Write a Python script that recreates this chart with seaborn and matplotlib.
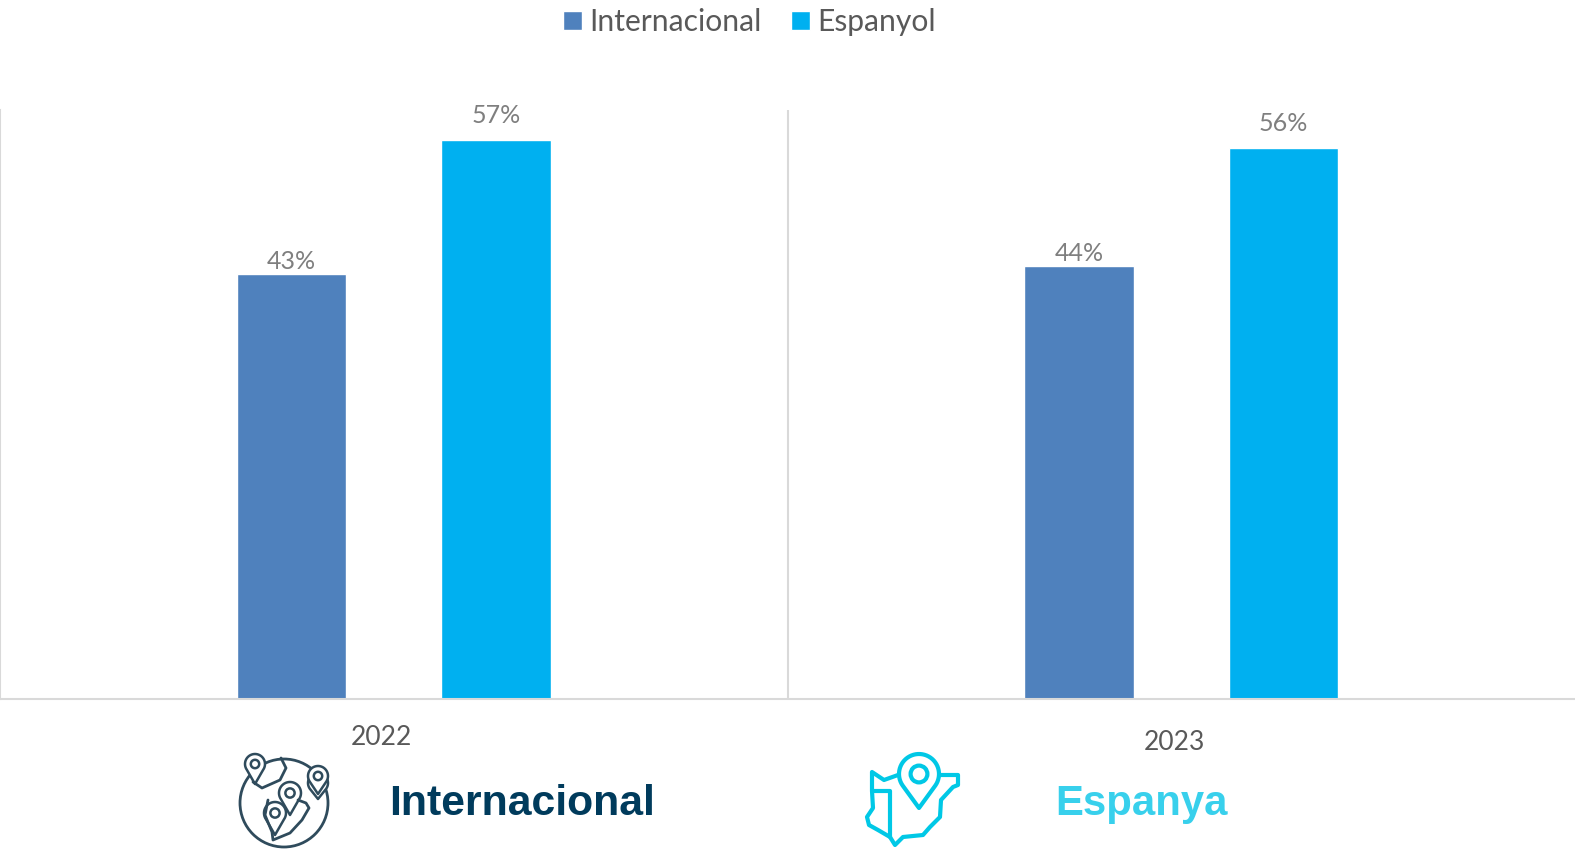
import numpy as np
import pandas as pd
import seaborn as sns
import matplotlib.pyplot as plt
from matplotlib.patches import Circle, Polygon
from matplotlib.transforms import ScaledTranslation

years = ["2022", "2023"]
series = ["Internacional", "Espanyol"]
internacional = [43.2, 44.0]
espanyol = [56.8, 56.0]

BLUE = "#4F81BD"
CYAN = "#00B0F0"
GRID = "#D9D9D9"
DARK = "#003B5C"
ICON_DARK = "#2F4B5C"
ICON_CYAN = "#00C8E6"

sns.set_style("white")
plt.rcParams["font.family"] = ["Lato", "DejaVu Sans"]

df = pd.DataFrame({
    "year": years * 2,
    "serie": [series[0]] * 2 + [series[1]] * 2,
    "value": internacional + espanyol,
})

fig = plt.figure(figsize=(15.75, 8.51), dpi=100)
ax = fig.add_axes([0, 1 - 699 / 851, 1, (699 - 110) / 851])
sns.barplot(data=df, x="year", y="value", hue="serie", order=years,
            hue_order=series, palette=[BLUE, CYAN], width=0.52, gap=0.465,
            saturation=1, ax=ax)
ax.set_xlim(-0.5, 1.5)
ax.set_ylim(0, 59.9)
ax.set_xlabel("")
ax.set_ylabel("")
ax.set_yticks([])
handles, labels = ax.get_legend_handles_labels()
ax.get_legend().remove()

# cyan labels float higher above their bars in the original
for cont, pad in zip(ax.containers, [0.7, 9.5]):
    ax.bar_label(cont, fmt="%.0f%%", color="#7F7F7F", fontsize=18, padding=pad)

# separators between years
ax.axvline(0.5, color=GRID, lw=1.5)
sns.despine(ax=ax, top=True, right=True)
for side in ["left", "bottom"]:
    ax.spines[side].set_color(GRID)
    ax.spines[side].set_linewidth(1.5)

# the year labels sit a bit off centre in the original
ax.tick_params(axis="x", length=0, labelsize=19, labelcolor="#595959", pad=18.5)
shifts = [(-12, 0), (-7, -5)]
for lab, (dx, dy) in zip(ax.get_xticklabels(), shifts):
    lab.set_transform(lab.get_transform() + ScaledTranslation(dx / 100, dy / 100, fig.dpi_scale_trans))

fig.legend(handles, labels, loc="upper left", bbox_to_anchor=(542 / 1575, 1 + 13 / 851),
           ncol=2, frameon=False, fontsize=21.6, labelcolor="#595959",
           handlelength=0.62, handleheight=0.62, handletextpad=0.24,
           columnspacing=1.0, borderpad=0.2)

# overlay in pixel coordinates for the icons and captions
over = fig.add_axes([0, 0, 1, 1], zorder=5)
over.set_xlim(0, 1575)
over.set_ylim(851, 0)
over.axis("off")
over.patch.set_alpha(0)


def draw_pin(x, y, r, tip, color, lw):
    t = np.linspace(np.radians(-215), np.radians(35), 40)
    pts = np.column_stack([x + r * np.cos(t), y + r * np.sin(t)])
    pts = np.vstack([pts, [x, y + tip]])
    over.add_patch(Polygon(pts, closed=True, fc="white", ec=color, lw=lw, joinstyle="round"))
    over.add_patch(Circle((x, y), r * 0.42, fc="white", ec=color, lw=lw))


# globe icon
over.add_patch(Circle((284, 803), 44, fc="white", ec=ICON_DARK, lw=2))
land_a = np.array([[253, 782], [262, 788], [280, 780], [286, 768], [281, 758]])
land_b = np.array([[268, 800], [265, 815], [272, 832], [273, 840], [290, 833], [302, 820], [309, 808], [306, 803], [298, 800]])
over.plot(land_a[:, 0], land_a[:, 1], color=ICON_DARK, lw=2)
over.plot(land_b[:, 0], land_b[:, 1], color=ICON_DARK, lw=2)
draw_pin(255, 764, 10, 20, ICON_DARK, 1.8)
draw_pin(318, 783, 10, 16, ICON_DARK, 1.8)
draw_pin(318, 776, 10, 18, ICON_DARK, 1.8)
draw_pin(290, 793, 11, 22, ICON_DARK, 1.8)
draw_pin(275, 813, 11, 22, ICON_DARK, 1.8)
over.text(389.5, 815, "Internacional", family="Liberation Sans", weight="bold",
          fontsize=30.8, color=DARK, va="baseline", ha="left")

# spain icon
spain = np.array([[898, 775], [884, 780], [872, 772], [872, 791], [873, 808], [867, 817],
                  [869, 825], [878, 830], [890, 837], [895, 845], [903, 837], [923, 835],
                  [930, 827], [940, 817], [941, 800], [953, 787], [958, 785], [958, 775], [940, 775]])
over.plot(spain[:, 0], spain[:, 1], color=ICON_CYAN, lw=3)
over.plot([873, 890, 890], [791, 791, 837], color=ICON_CYAN, lw=3)
draw_pin(919, 774, 20, 34, ICON_CYAN, 3)
over.text(1055.5, 815, "Espanya", family="Liberation Sans", weight="bold",
          fontsize=30.2, color="#38D0EC", va="baseline", ha="left")

fig.savefig("out.png", dpi=100)
